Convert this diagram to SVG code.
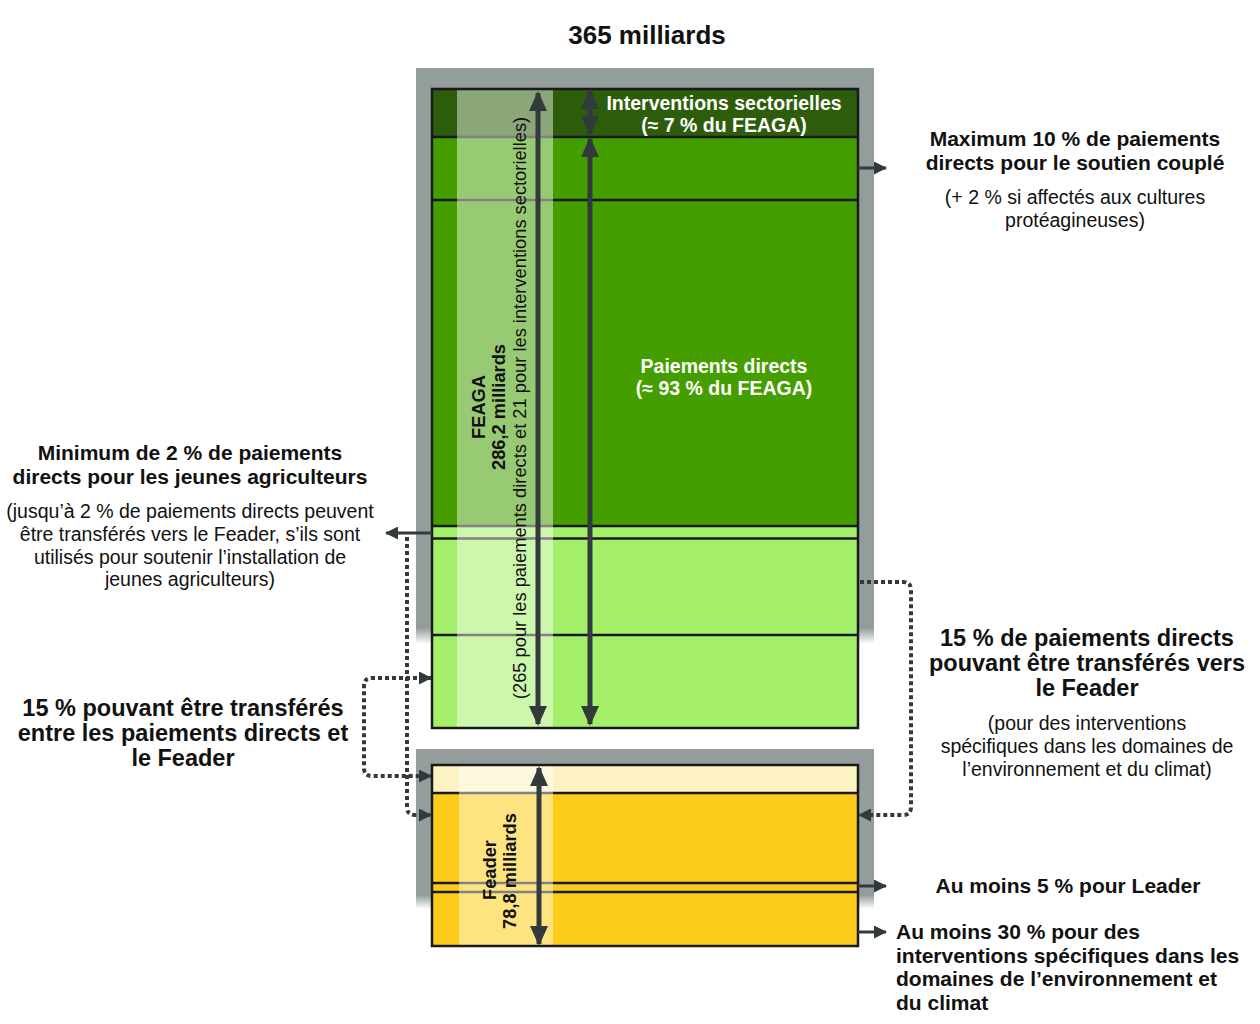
<svg xmlns="http://www.w3.org/2000/svg" width="1260" height="1024" viewBox="0 0 1260 1024">
<style>
text{font-family:"Liberation Sans",Arial,sans-serif;fill:#111}
.b{font-weight:bold}
.w{fill:#fff;font-weight:bold;font-size:19.5px}
.t21{font-size:21px}
.t19{font-size:19.5px}
.v{font-size:18.3px}
.t23{font-size:23.5px}
.box{stroke:#1a1a1a;stroke-width:2.5}
.ln{stroke:#1a1a1a;stroke-width:2.5}
.ov{fill:#fff;fill-opacity:0.45}
.arr{stroke:#333a3e;stroke-width:5;fill:none}
.sa{stroke:#333a3e;stroke-width:3;fill:none}
.dot{stroke:#333a3e;stroke-width:4;stroke-dasharray:4 3;fill:none}
</style>
<defs>
<marker id="h" markerUnits="userSpaceOnUse" markerWidth="20" markerHeight="18" viewBox="0 0 20 18" refX="18" refY="9" orient="auto-start-reverse"><path d="M0,0 L20,9 L0,18 Z" fill="#333a3e"/></marker>
<marker id="hs" markerUnits="userSpaceOnUse" markerWidth="13" markerHeight="13" viewBox="0 0 13 13" refX="12" refY="6.5" orient="auto-start-reverse"><path d="M0,0 L13,6.5 L0,13 Z" fill="#333a3e"/></marker>
<linearGradient id="fade" x1="0" y1="0" x2="0" y2="1"><stop offset="0" stop-color="#939e9c"/><stop offset="1" stop-color="#939e9c" stop-opacity="0"/></linearGradient>
</defs>

<text x="647" y="44" class="b" font-size="26" text-anchor="middle">365 milliards</text>

<g id="feaga">
<rect x="416" y="68" width="458" height="560" fill="#939e9c"/>
<rect x="416" y="628" width="458" height="16" fill="url(#fade)"/>
<rect x="432" y="89" width="426" height="48" fill="#2d5d0b"/>
<rect x="432" y="137" width="426" height="390" fill="#449e00"/>
<rect x="432" y="527" width="426" height="201" fill="#a4f06b"/>
<line x1="432" y1="137" x2="858" y2="137" class="ln" stroke-width="1.5"/>
<line x1="432" y1="200" x2="858" y2="200" class="ln"/>
<line x1="432" y1="526" x2="858" y2="526" class="ln" stroke-width="2"/>
<line x1="432" y1="538.5" x2="858" y2="538.5" class="ln" stroke-width="3.5"/>
<line x1="432" y1="635" x2="858" y2="635" class="ln"/>
<rect x="457" y="89" width="96" height="639" class="ov"/>
<rect x="432" y="89" width="426" height="639" fill="none" class="box"/>
<text class="w" text-anchor="middle"><tspan x="724" y="110">Interventions sectorielles</tspan><tspan x="724" y="132">(≈ 7 % du FEAGA)</tspan></text>
<text class="w" text-anchor="middle"><tspan x="724" y="373">Paiements directs</tspan><tspan x="724" y="395">(≈ 93 % du FEAGA)</tspan></text>
<text class="b v" text-anchor="middle" transform="translate(485,407) rotate(-90)">FEAGA</text>
<text class="b v" text-anchor="middle" transform="translate(505,407) rotate(-90)">286,2 milliards</text>
<text class="v" text-anchor="middle" transform="translate(526,408) rotate(-90)">(265 pour les paiements directs et 21 pour les interventions sectorielles)</text>
</g>

<g id="feader">
<rect x="416" y="749" width="458" height="146" fill="#939e9c"/>
<rect x="416" y="895" width="458" height="14" fill="url(#fade)"/>
<rect x="432" y="765" width="426" height="28" fill="#fdf2c4"/>
<rect x="432" y="793" width="426" height="153" fill="#fdcc1b"/>
<line x1="432" y1="793" x2="858" y2="793" class="ln" stroke-width="1.5"/>
<line x1="432" y1="883" x2="858" y2="883" class="ln"/>
<line x1="432" y1="892" x2="858" y2="892" class="ln"/>
<rect x="459" y="765" width="94" height="181" class="ov"/>
<rect x="432" y="765" width="426" height="181" fill="none" class="box"/>
<text class="b v" text-anchor="middle" transform="translate(496,870) rotate(-90)">Feader</text>
<text class="b v" text-anchor="middle" transform="translate(516,871) rotate(-90)">78,8 milliards</text>
</g>

<g id="connectors">
<line x1="538" y1="93" x2="538" y2="724" class="arr" marker-start="url(#h)" marker-end="url(#h)"/>
<line x1="590" y1="91" x2="590" y2="134" class="arr" marker-start="url(#h)" marker-end="url(#h)"/>
<line x1="590" y1="139" x2="590" y2="724" class="arr" marker-start="url(#h)" marker-end="url(#h)"/>
<line x1="539" y1="768" x2="539" y2="944" class="arr" marker-start="url(#h)" marker-end="url(#h)"/>
<line x1="858" y1="168" x2="886" y2="168" class="sa" marker-end="url(#hs)"/>
<line x1="858" y1="886" x2="886" y2="886" class="sa" marker-end="url(#hs)"/>
<line x1="858" y1="932" x2="886" y2="932" class="sa" marker-end="url(#hs)"/>
<line x1="432" y1="533" x2="386" y2="533" class="sa" marker-end="url(#hs)"/>
<path d="M407,537 V807 Q407,815 415,815 H431" class="dot" marker-end="url(#hs)"/>
<path d="M431,678 H372 Q364,678 364,686 V768 Q364,776 372,776 H431" class="dot" marker-start="url(#hs)" marker-end="url(#hs)"/>
<path d="M860,582 H903 Q911,582 911,590 V807 Q911,815 903,815 H859" class="dot" marker-end="url(#hs)"/>
</g>

<g id="note-couple">
<text class="b t21" text-anchor="middle"><tspan x="1075" y="146">Maximum 10 % de paiements</tspan><tspan x="1075" y="170">directs pour le soutien couplé</tspan></text>
<text class="t19" text-anchor="middle"><tspan x="1075" y="204">(+ 2 % si affectés aux cultures</tspan><tspan x="1075" y="227">protéagineuses)</tspan></text>
</g>

<g id="note-jeunes">
<text class="b t21" text-anchor="middle"><tspan x="190" y="460">Minimum de 2 % de paiements</tspan><tspan x="190" y="484">directs pour les jeunes agriculteurs</tspan></text>
<text class="t19" text-anchor="middle"><tspan x="190" y="518">(jusqu’à 2 % de paiements directs peuvent</tspan><tspan x="190" y="541">être transférés vers le Feader, s’ils sont</tspan><tspan x="190" y="564">utilisés pour soutenir l’installation de</tspan><tspan x="190" y="586">jeunes agriculteurs)</tspan></text>
</g>

<g id="note-15-left">
<text class="b t23" text-anchor="middle"><tspan x="183" y="716">15 % pouvant être transférés</tspan><tspan x="183" y="741">entre les paiements directs et</tspan><tspan x="183" y="766">le Feader</tspan></text>
</g>

<g id="note-15-right">
<text class="b t23" text-anchor="middle"><tspan x="1087" y="646">15 % de paiements directs</tspan><tspan x="1087" y="671">pouvant être transférés vers</tspan><tspan x="1087" y="696">le Feader</tspan></text>
<text class="t19" text-anchor="middle"><tspan x="1087" y="730">(pour des interventions</tspan><tspan x="1087" y="753">spécifiques dans les domaines de</tspan><tspan x="1087" y="776">l’environnement et du climat)</tspan></text>
</g>

<g id="note-leader">
<text class="b t21" x="1068" y="893" text-anchor="middle">Au moins 5 % pour Leader</text>
</g>

<g id="note-30">
<text class="b t21"><tspan x="896" y="939">Au moins 30 % pour des</tspan><tspan x="896" y="963">interventions spécifiques dans les</tspan><tspan x="896" y="986">domaines de l’environnement et</tspan><tspan x="896" y="1010">du climat</tspan></text>
</g>
</svg>
